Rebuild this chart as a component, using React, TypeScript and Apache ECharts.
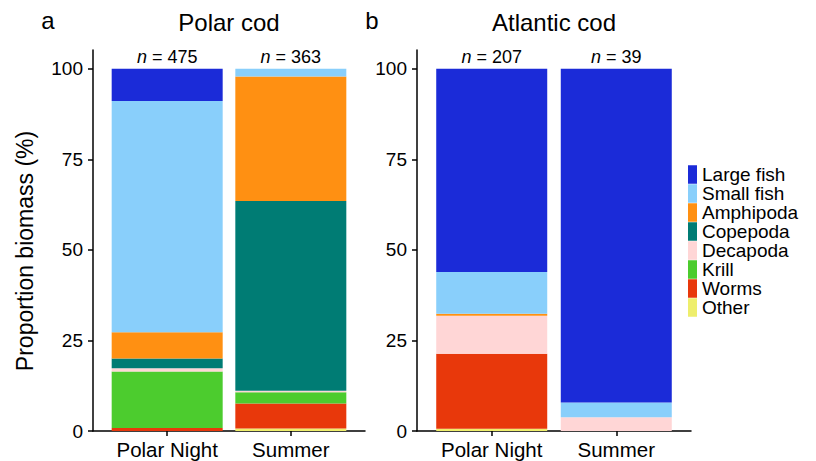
import React, { useEffect, useRef } from "react";
import * as echarts from "echarts";

const groups = ["Polar Night", "Summer"];
const panelTitles = ["Polar cod", "Atlantic cod"];
const panelLetters = ["a", "b"];
const yTitle = "Proportion biomass (%)";
// stacking order, bottom to top
const prey = ["Other", "Worms", "Krill", "Decapoda", "Copepoda", "Amphipoda", "Small fish", "Large fish"];
const preyColors = ["#eeee6c", "#e8380b", "#4ccc2e", "#ffd6d6", "#007c74", "#ff9012", "#89cffb", "#1b2bd8"];
const legendOrder = ["Large fish", "Small fish", "Amphipoda", "Copepoda", "Decapoda", "Krill", "Worms", "Other"];

// proportion biomass (%) per prey, in stacking order
const polarCodNight = [0, 0.8, 15.6, 0.9, 2.7, 7.3, 63.8, 8.9];
const polarCodSummer = [0.7, 6.9, 3.1, 0.4, 52.4, 34.4, 2.1, 0];
const atlanticCodNight = [0.6, 20.7, 0, 10.5, 0, 0.6, 11.5, 56.1];
const atlanticCodSummer = [0, 0, 0, 3.8, 0, 0, 4.1, 92.1];
const nPolarCod = [475, 363];
const nAtlanticCod = [207, 39];
const yTicks = [0, 25, 50, 75, 100];

const FONT = "Liberation Sans, Arial, Helvetica, sans-serif";

// fine category slots so that the two groups sit like a ggplot discrete axis
const SLOTS = 12;
const groupSlots = [3, 8];

export default function App() {
  const ref = useRef<HTMLDivElement>(null);
  useEffect(() => {
    document.body.style.margin = "0";
    if (!ref.current) return;
    const chart = echarts.init(ref.current, null, { renderer: "svg" });

    const grids = [
      { left: 93, top: 50, width: 272, height: 381 },
      { left: 417, top: 50, width: 274, height: 381 },
    ];
    const panelData = [
      [polarCodNight, polarCodSummer],
      [atlanticCodNight, atlanticCodSummer],
    ];
    const panelN = [nPolarCod, nAtlanticCod];

    const slotCats = Array.from({ length: SLOTS }, (_, k) => {
      const gi = groupSlots.indexOf(k);
      return gi >= 0 ? groups[gi] : "s" + k;
    });
    const fill = (vals: (number | string)[]) => {
      const arr: (number | string)[] = Array(SLOTS).fill("-");
      groupSlots.forEach((s, gi) => (arr[s] = vals[gi]));
      return arr;
    };

    const series: any[] = [];
    panelData.forEach((pd, p) => {
      prey.forEach((name, i) => {
        series.push({
          type: "bar",
          name,
          xAxisIndex: p,
          yAxisIndex: p,
          stack: "panel" + p,
          barWidth: 111,
          itemStyle: { color: preyColors[i] },
          data: fill(pd.map((g) => g[i])),
        });
      });
      series.push({
        type: "scatter",
        name: "n" + p,
        xAxisIndex: p,
        yAxisIndex: p,
        symbolSize: 0,
        silent: true,
        itemStyle: { opacity: 1 },
        data: fill(groups.map(() => 100)),
        label: {
          show: true,
          position: "top",
          distance: 3,
          color: "#000",
          opacity: 1,
          fontFamily: FONT,
          fontSize: 18,
          formatter: (prm: any) => `{i|n} = ${panelN[p][groupSlots.indexOf(prm.dataIndex)]}`,
          rich: { i: { fontStyle: "italic", fontSize: 18, fontFamily: FONT, color: "#000" } },
        },
      });
    });

    const axisLine = { show: true, lineStyle: { color: "#000", width: 1.5 } };
    const tickStyle = { lineStyle: { color: "#000", width: 1.5 }, length: 5 };

    const xAxis = grids.map((_, p) => ({
      type: "category",
      gridIndex: p,
      data: slotCats,
      boundaryGap: false,
      splitLine: { show: false },
      axisLine,
      axisTick: { show: true, interval: (idx: number) => groupSlots.includes(idx), ...tickStyle },
      axisLabel: {
        interval: (idx: number) => groupSlots.includes(idx),
        formatter: (v: string) => (groups.includes(v) ? v : ""),
        color: "#000",
        fontFamily: FONT,
        fontSize: 20.5,
        margin: 8,
      },
    }));
    const yAxis = grids.map((_, p) => ({
      type: "value",
      gridIndex: p,
      min: 0,
      max: 105.2,
      splitLine: { show: false },
      axisLine,
      axisTick: { show: true, customValues: yTicks, ...tickStyle },
      axisLabel: {
        customValues: yTicks,
        color: "#000",
        fontFamily: FONT,
        fontSize: 19,
        margin: 10,
      },
    }));

    const graphic: any[] = [];
    grids.forEach((g, p) => {
      graphic.push({
        type: "text",
        x: g.left + g.width / 2,
        y: 22,
        style: { text: panelTitles[p], fontFamily: FONT, fontSize: 24, fill: "#000", textAlign: "center", textVerticalAlign: "middle" },
      });
      graphic.push({
        type: "text",
        x: g.left - 45,
        y: 20,
        style: { text: panelLetters[p], fontFamily: FONT, fontSize: 24, fill: "#000", textAlign: "center", textVerticalAlign: "middle" },
      });
    });
    graphic.push({
      type: "text",
      x: 25,
      y: 251,
      rotation: Math.PI / 2,
      style: { text: yTitle, fontFamily: FONT, fontSize: 23, fill: "#000", textAlign: "center", textVerticalAlign: "middle" },
    });

    chart.setOption({
      animation: false,
      backgroundColor: "#fff",
      grid: grids.map((g) => ({ ...g, outerBoundsMode: "none", containLabel: false })),
      xAxis,
      yAxis,
      series,
      graphic,
      legend: {
        data: legendOrder,
        orient: "vertical",
        left: 688,
        top: 165,
        padding: 0,
        icon: "rect",
        itemWidth: 9,
        itemHeight: 18.5,
        itemGap: 0,
        selectedMode: false,
        textStyle: { fontFamily: FONT, fontSize: 19, color: "#000", lineHeight: 18 },
      },
    });
    return () => chart.dispose();
  }, []);
  return <div ref={ref} style={{ width: 816, height: 461 }} />;
}
